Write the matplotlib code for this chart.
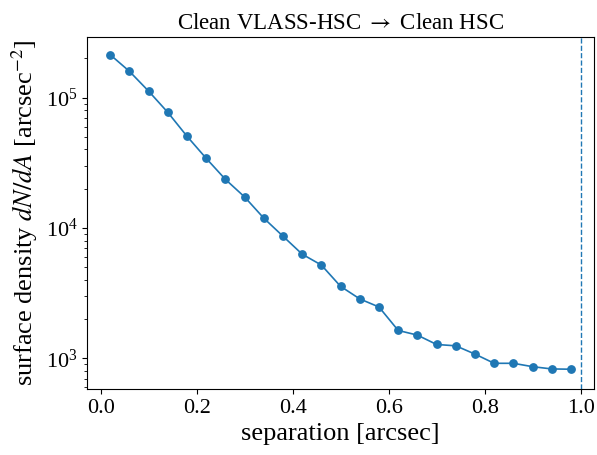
import matplotlib
matplotlib.use("Agg")
import matplotlib.pyplot as plt
import numpy as np

plt.rcParams['font.family'] = ['Liberation Serif', 'DejaVu Serif']
plt.rcParams['mathtext.fontset'] = 'stix'

separation = [0.02, 0.06, 0.10, 0.14, 0.18, 0.22, 0.26, 0.30, 0.34, 0.38, 0.42, 0.46, 0.50,
              0.54, 0.58, 0.62, 0.66, 0.70, 0.74, 0.78, 0.82, 0.86, 0.90, 0.94, 0.98]
density = [2.13e5, 1.59e5, 1.12e5, 7.7e4, 5.05e4, 3.42e4, 2.36e4, 1.73e4, 1.19e4, 8.65e3,
           6.3e3, 5.2e3, 3.57e3, 2.86e3, 2.48e3, 1.64e3, 1.51e3, 1.28e3, 1.25e3, 1.08e3,
           918, 918, 865, 831, 827]
cutoff = 1.0

fig, ax = plt.subplots(figsize=(5.97, 4.55), dpi=100)
ax.plot(separation, density, marker='o', markersize=5.3, linewidth=1.2, color='#1f77b4')
ax.axvline(cutoff, linestyle='--', linewidth=1.0, color='#1f77b4')
ax.set_yscale('log')
ax.set_ylim(583, 2.92e5)
ax.set_xlim(-0.028, 1.028)
ax.set_xticks([0.0, 0.2, 0.4, 0.6, 0.8, 1.0])
ax.tick_params(labelsize=16)
ax.set_xlabel('separation [arcsec]', fontsize=19)
ax.set_ylabel(r'surface density $dN/dA$ [arcsec$^{-2}$]', fontsize=19)
ax.set_title(r'Clean VLASS-HSC $\rightarrow$ Clean HSC', fontsize=16.5)
fig.subplots_adjust(left=0.146, right=0.995, top=0.919, bottom=0.145)
fig.savefig('out.png', dpi=100)
